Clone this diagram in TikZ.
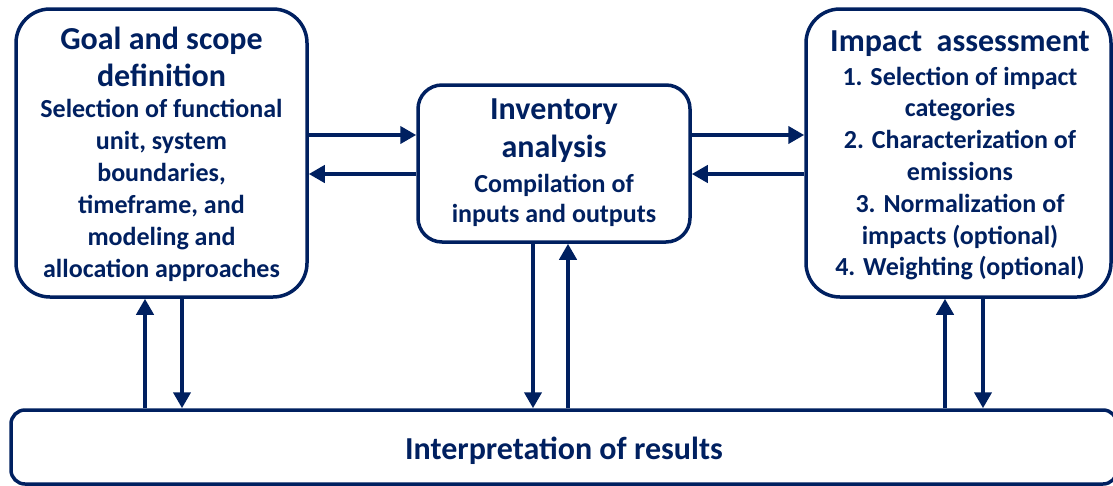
\documentclass[tikz,border=0pt]{standalone}
\usepackage{fontspec}
\setmainfont{Carlito}
\usetikzlibrary{arrows.meta}
\definecolor{navy}{HTML}{002060}
\begin{document}
\begin{tikzpicture}[x=1pt,y=-1pt,
  box/.style={draw=navy, line width=3.5pt, fill=white, inner sep=0pt},
  title/.style={text=navy, align=center, inner sep=0pt, font=\fontsize{32}{37}\selectfont\bfseries},
  body/.style={text=navy, align=center, inner sep=0pt, font=\fontsize{26}{32}\selectfont\bfseries},
  link/.style={draw=navy, line width=4.5pt, -{Triangle[length=16pt,width=17pt]}}
]
\useasboundingbox (0,0) rectangle (1113,485);

% stage boxes
\node[box, rounded corners=34pt, minimum width=291pt, minimum height=288pt] (goal) at (161.5,153) {};
\node[box, rounded corners=24pt, minimum width=272pt, minimum height=157pt] (inv) at (554,163.5) {};
\node[box, rounded corners=34pt, minimum width=305pt, minimum height=288pt] (imp) at (958.5,153) {};
\node[box, rounded corners=14pt, minimum width=1106pt, minimum height=74pt] (interp) at (564,447) {};

% box texts
\node[title] (goalT) at (161.5,57) {Goal and scope\\definition};
\node[body] (goalB) at (161.5,190.5) {Selection of functional\\unit, system\\boundaries,\\timeframe, and\\modeling and\\allocation approaches};
\node[title, font=\fontsize{32}{38}\selectfont\bfseries] (invT) at (554,131) {Inventory\\analysis};
\node[body, font=\fontsize{26}{30}\selectfont\bfseries] (invB) at (554,200.5) {Compilation of\\inputs and outputs};
\node[title] (impT) at (960,44) {Impact~~assessment};
\node[body, font=\fontsize{26}{31.8}\selectfont\bfseries] (impB) at (960,173.5) {1. Selection of impact\\categories\\2. Characterization of\\emissions\\3. Normalization of\\impacts (optional)\\4. Weighting (optional)};
\node[title] (interpT) at (564,451) {Interpretation of results};

% horizontal exchanges
\draw[link] ([yshift=18pt]goal.east) -- ([yshift=18pt]goal.east -| inv.west);
\draw[link] ([yshift=-21pt]goal.east -| inv.west) -- ([yshift=-21pt]goal.east);
\draw[link] ([yshift=18pt]imp.west -| inv.east) -- ([yshift=18pt]imp.west);
\draw[link] ([yshift=-21pt]imp.west) -- ([yshift=-21pt]imp.west -| inv.east);

% vertical exchanges with interpretation
\draw[link] ([xshift=-16.5pt]goal.south |- interp.north) -- ([xshift=-16.5pt]goal.south);
\draw[link] ([xshift=20.5pt]goal.south) -- ([xshift=20.5pt]goal.south |- interp.north);
\draw[link] ([xshift=-21pt]inv.south) -- ([xshift=-21pt]inv.south |- interp.north);
\draw[link] ([xshift=14pt]inv.south |- interp.north) -- ([xshift=14pt]inv.south);
\draw[link] ([xshift=-13.5pt]imp.south |- interp.north) -- ([xshift=-13.5pt]imp.south);
\draw[link] ([xshift=24.5pt]imp.south) -- ([xshift=24.5pt]imp.south |- interp.north);
\end{tikzpicture}
\end{document}
